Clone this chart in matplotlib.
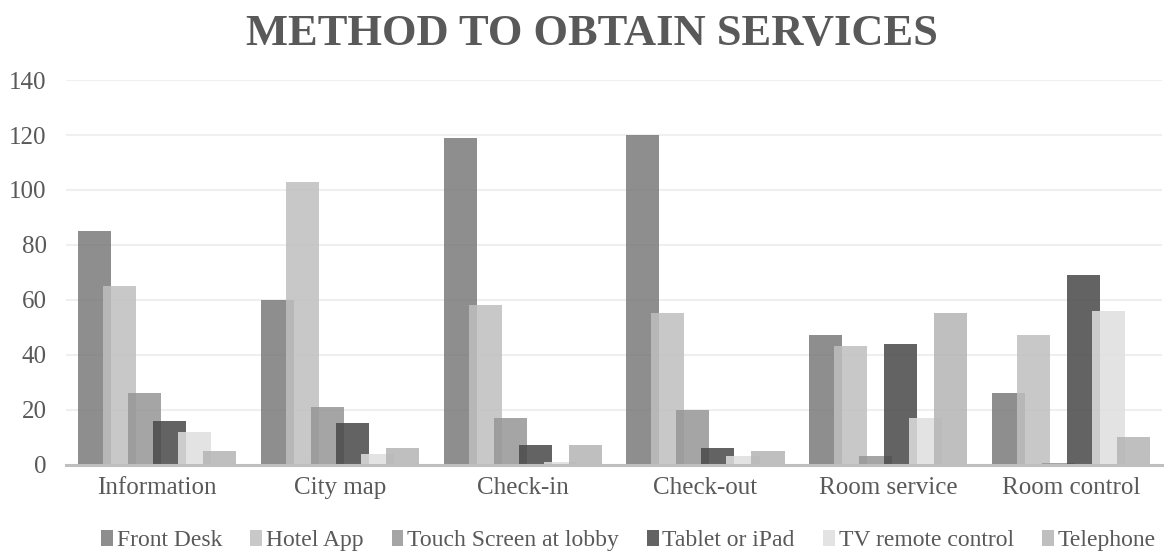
import matplotlib.pyplot as plt
import numpy as np

plt.rcParams['font.family'] = ['Liberation Serif', 'DejaVu Serif']

categories = ['Information', 'City map', 'Check-in', 'Check-out', 'Room service', 'Room control']
series_names = ['Front Desk', 'Hotel App', 'Touch Screen at lobby', 'Tablet or iPad',
                'TV remote control', 'Telephone']
front_desk = [85, 60, 119, 120, 47, 26]
hotel_app = [65, 103, 58, 55, 43, 47]
touch_screen = [26, 21, 17, 20, 3, 0.5]
tablet = [16, 15, 7, 6, 44, 69]
tv_remote = [12, 4, 1, 3, 17, 56]
telephone = [5, 6, 7, 5, 55, 10]
values = [front_desk, hotel_app, touch_screen, tablet, tv_remote, telephone]

# semi-transparent greys, bars overlap a little inside each group
colors = ['#7a7a7a', '#bfbfbf', '#969696', '#484848', '#dfdfdf', '#b4b4b4']
alpha = 0.85
text_col = '#595959'

fig = plt.figure(figsize=(11.68, 5.6), dpi=100)
ax = fig.add_axes([0.0565, 0.1705, 0.9385, 0.6865])

x = np.arange(len(categories))
step = 0.137
width = 0.181
for i, (name, vals) in enumerate(zip(series_names, values)):
    ax.bar(x + (i - 2.5) * step, vals, width, color=colors[i], alpha=alpha,
           label=name, linewidth=0, zorder=3)

ax.set_xlim(-0.5, len(categories) - 0.5)
ax.set_ylim(0, 140)
ax.set_yticks(np.arange(0, 141, 20))
ax.set_xticks(x)
ax.set_xticklabels(categories)
ax.grid(axis='y', color='#efefef', linewidth=1.5, zorder=0)
for side in ['top', 'right', 'left']:
    ax.spines[side].set_visible(False)
ax.spines['bottom'].set_color('#bfbfbf')
ax.spines['bottom'].set_linewidth(2.2)
ax.spines['bottom'].set_zorder(4)
ax.tick_params(axis='both', length=0, labelsize=18, colors=text_col)
ax.tick_params(axis='x', pad=9)
ax.tick_params(axis='y', pad=14)

fig.text(0.507, 0.94, 'METHOD TO OBTAIN SERVICES', ha='center', va='center',
         fontsize=32, fontweight='bold', color=text_col)

leg = fig.legend(loc='center', bbox_to_anchor=(0.538, 0.035), ncol=6, frameon=False,
                 fontsize=17, handlelength=0.5, handleheight=0.7, handletextpad=0.15,
                 columnspacing=1.2)
for t in leg.get_texts():
    t.set_color(text_col)

plt.savefig('out.png', dpi=100)
